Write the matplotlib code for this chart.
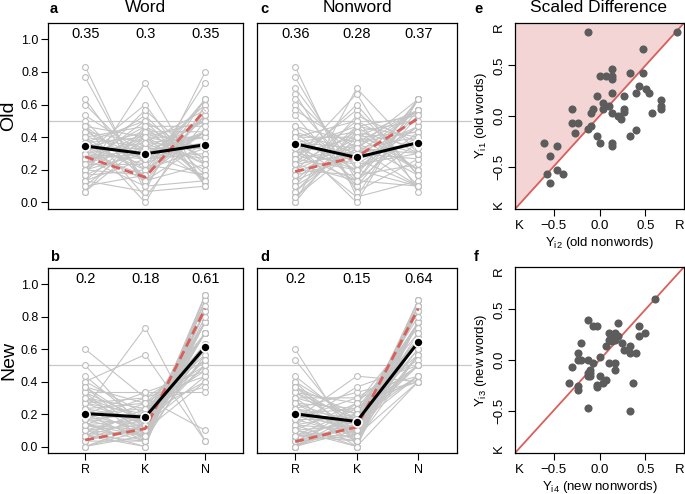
import numpy as np
import matplotlib.pyplot as plt

plt.rcParams['font.family'] = ['Liberation Sans', 'DejaVu Sans']

resp = ['R', 'K', 'N']

# per-participant response counts out of 30 trials: (R, K, N)
old_word = [
    (25, 2, 3), (23, 3, 4), (19, 4, 7), (18, 7, 5), (16, 9, 5), (15, 4, 11), (14, 12, 4), (14, 6, 10), (14, 1, 15), (13, 8, 9),
    (13, 11, 6), (12, 5, 13), (12, 10, 8), (12, 14, 4), (12, 0, 18), (11, 8, 11), (11, 12, 7), (11, 6, 13), (11, 15, 4), (10, 10, 10),
    (10, 7, 13), (10, 13, 7), (10, 4, 16), (10, 9, 11), (9, 16, 5), (9, 8, 13), (9, 11, 10), (9, 18, 3), (9, 5, 16), (8, 12, 10),
    (8, 9, 13), (8, 14, 8), (8, 3, 19), (8, 10, 12), (7, 15, 8), (7, 7, 16), (7, 11, 12), (5, 22, 3), (7, 13, 10), (6, 9, 15),
    (6, 12, 12), (6, 5, 19), (6, 17, 7), (5, 10, 15), (5, 6, 19), (4, 13, 13), (4, 8, 18), (4, 2, 24), (3, 12, 15), (3, 5, 22),
    (2, 11, 17), (2, 14, 14)]
new_word = [
    (18, 9, 3), (15, 3, 12), (13, 4, 13), (12, 17, 1), (7, 22, 1), (12, 6, 12), (11, 2, 17), (11, 8, 11), (10, 5, 15), (10, 1, 19),
    (10, 10, 10), (9, 7, 14), (9, 3, 18), (8, 4, 18), (8, 6, 16), (8, 9, 13), (7, 2, 21), (7, 5, 18), (7, 8, 15), (6, 3, 21),
    (6, 7, 17), (6, 1, 23), (6, 10, 14), (5, 4, 21), (5, 6, 19), (5, 2, 23), (5, 9, 16), (4, 5, 21), (4, 1, 25), (4, 8, 18),
    (4, 3, 23), (3, 6, 21), (3, 2, 25), (3, 4, 23), (3, 0, 27), (2, 5, 23), (2, 7, 21), (2, 1, 27), (2, 3, 25), (1, 4, 25),
    (1, 1, 28), (1, 6, 23), (0, 2, 28), (0, 4, 26), (0, 3, 27), (2, 0, 28), (11, 4, 15), (9, 5, 16), (6, 5, 19), (4, 2, 24)]
old_nonword = [
    (25, 1, 4), (23, 4, 3), (21, 6, 3), (20, 2, 8), (19, 8, 3), (18, 5, 7), (17, 10, 3), (16, 3, 11), (14, 7, 9), (14, 11, 5),
    (13, 4, 13), (13, 9, 8), (12, 12, 6), (12, 6, 12), (12, 15, 3), (11, 8, 11), (11, 3, 16), (11, 13, 6), (11, 10, 9), (10, 6, 14),
    (10, 1, 19), (10, 14, 6), (10, 9, 11), (8, 20, 2), (9, 7, 14), (9, 12, 9), (9, 4, 17), (8, 10, 12), (8, 17, 5), (11, 0, 19),
    (8, 6, 16), (7, 13, 10), (7, 4, 19), (7, 9, 14), (7, 18, 5), (6, 11, 13), (6, 5, 19), (6, 15, 9), (5, 8, 17), (5, 12, 13),
    (4, 9, 17), (4, 14, 12), (3, 10, 17), (3, 16, 11), (2, 11, 17), (2, 13, 15), (1, 12, 17), (0, 14, 16), (0, 21, 9), (1, 10, 19)]
new_nonword = [
    (18, 0, 12), (16, 2, 12), (13, 4, 13), (12, 5, 13), (12, 1, 17), (11, 6, 13), (11, 2, 17), (10, 8, 12), (10, 3, 17), (10, 5, 15),
    (9, 1, 20), (9, 6, 15), (9, 9, 12), (8, 2, 20), (8, 4, 18), (8, 7, 15), (7, 0, 23), (7, 3, 20), (7, 10, 13), (7, 5, 18),
    (5, 13, 12), (6, 1, 23), (6, 4, 20), (6, 7, 17), (5, 2, 23), (5, 5, 20), (5, 9, 16), (4, 0, 26), (4, 3, 23), (4, 6, 20),
    (4, 11, 15), (3, 1, 26), (3, 4, 23), (3, 8, 19), (2, 2, 26), (2, 5, 23), (3, 0, 27), (2, 3, 25), (2, 7, 21), (1, 2, 27),
    (1, 4, 25), (1, 6, 23), (0, 3, 27), (0, 4, 26), (0, 6, 24), (0, 5, 25), (0, 8, 22), (2, 1, 27), (11, 4, 15), (6, 3, 21)]

# group means (black) and model predictions (red dashed)
mean_old_word = [0.346, 0.298, 0.354]
mean_new_word = [0.203, 0.181, 0.613]
mean_old_nonword = [0.360, 0.276, 0.367]
mean_new_nonword = [0.201, 0.154, 0.643]
model_old_word = [0.28, 0.155, 0.565]
model_new_word = [0.04, 0.11, 0.85]
model_old_nonword = [0.19, 0.28, 0.515]
model_new_nonword = [0.03, 0.12, 0.85]

# scaled differences
e_x = [-0.13, 0.84, 0.47, 0.00, 0.07, 0.14, 0.14, 0.14, 0.33, 0.47, 0.43, 0.40, 0.51, 0.54, 0.14, -0.03, 0.27,
       0.67, 0.67, 0.67, 0.04, 0.10, 0.04, -0.07, -0.09, -0.30, 0.14, 0.27, 0.27, 0.20, 0.23, 0.57, -0.30, -0.23,
       -0.09, -0.13, -0.27, -0.03, 0.00, 0.14, 0.14, 0.33, 0.40, -0.60, -0.46, -0.54, -0.57, -0.46, -0.40, -0.54]
e_y = [0.83, 0.83, 0.66, 0.40, 0.40, 0.40, 0.46, 0.37, 0.43, 0.43, 0.30, 0.23, 0.27, 0.23, 0.23, 0.20, 0.20,
       0.16, 0.10, 0.07, 0.13, 0.10, 0.07, 0.07, 0.03, 0.07, 0.03, 0.07, 0.04, 0.00, -0.03, 0.03, -0.07, -0.07,
       -0.10, -0.13, -0.17, -0.20, -0.27, -0.27, -0.30, -0.20, -0.14, -0.27, -0.30, -0.40, -0.57, -0.53, -0.57, -0.66]
f_x = [0.60, -0.13, -0.07, -0.03, 0.20, 0.43, 0.50, 0.43, 0.10, 0.17, 0.14, 0.20, 0.10, 0.14, 0.17, 0.07,
       0.24, -0.20, 0.27, 0.33, 0.33, 0.40, -0.23, -0.23, -0.20, -0.13, 0.00, -0.07, -0.30, 0.10, 0.17, 0.17,
       -0.10, -0.13, -0.10, -0.13, -0.10, 0.00, -0.33, -0.23, -0.23, -0.03, -0.03, 0.04, 0.07, 0.37, -0.13, 0.33]
f_y = [0.60, 0.40, 0.34, 0.34, 0.37, 0.34, 0.27, 0.24, 0.27, 0.27, 0.24, 0.24, 0.20, 0.19, 0.20, 0.14,
       0.17, 0.17, 0.10, 0.14, 0.07, 0.07, 0.07, 0.00, 0.00, 0.00, 0.03, -0.03, -0.07, -0.03, -0.03, -0.10,
       -0.10, -0.13, -0.13, -0.16, -0.16, -0.16, -0.23, -0.26, -0.30, -0.25, -0.27, -0.23, -0.20, -0.23, -0.47, -0.50]

W, H = 685, 494
fig = plt.figure(figsize=(W / 100, H / 100), dpi=100)


def box(x0, y0, x1, y1):
    return [x0 / W, 1 - y1 / H, (x1 - x0) / W, (y1 - y0) / H]


def rkn_panel(ax, data, means, model, bottom):
    p = np.array(data) / 30
    x = np.arange(1, 4)
    ax.axhline(0.5, xmin=0, xmax=1.072, color='#c8c8c8', lw=0.9, clip_on=False, zorder=1)
    for row in p:
        ax.plot(x, row, color='#c4c4c4', lw=0.8, zorder=2)
    for i in range(3):
        ax.plot(np.full(len(p), x[i]), p[:, i], 'o', ms=4.2, mfc='white', mec='#bdbdbd', mew=0.8, zorder=3)
    ax.plot(x, model, color='#d9605a', lw=2, dashes=(3.2, 1.8), zorder=4)
    ax.plot(x, means, color='black', lw=2.2, zorder=5)
    ax.plot(x, means, 'o', color='black', ms=6.5, mec='white', mew=1.2, zorder=6)
    for xi, m in zip(x, means):
        ax.text(xi, 1.035, f"{round(m, 2):g}", ha='center', va='center', fontsize=10.5)
    ax.set_xlim(0.38, 3.63)
    ax.set_ylim(-0.04, 1.10)
    if bottom:
        ax.set_xticks(x, resp, fontsize=9)
        ax.tick_params(axis='x', length=5, width=0.8, pad=3)
    else:
        ax.tick_params(axis='x', bottom=False, labelbottom=False)


def diff_panel(ax, xs, ys, xlab, ylab, shade):
    lim = 0.92
    if shade:
        ax.fill_between([-lim, lim], [-lim, lim], [lim, lim], color='#f3d5d5', lw=0, zorder=0)
    ax.plot([-lim, lim], [-lim, lim], color='#d9605a', lw=1.3, zorder=1)
    ax.scatter(xs, ys, s=34, color='#5c5c5c', lw=0, zorder=3)
    ax.set_xlim(-lim, lim)
    ax.set_ylim(-lim, lim)
    ticks = [-0.875, -0.5, 0, 0.5, 0.875]
    labs = ['K', '\u22120.5', '0.0', '0.5', 'R']
    ax.set_xticks(ticks, labs, fontsize=9.5)
    ax.set_yticks(ticks, labs, fontsize=9.5)
    ax.tick_params(axis='both', length=5, width=0.8)
    ax.tick_params(axis='x', pad=3)
    ax.tick_params(axis='y', pad=2, labelrotation=90)
    for lab in ax.get_yticklabels():
        lab.set_va('center')
    for axis in (ax.xaxis, ax.yaxis):
        tk = axis.get_major_ticks()
        tk[0].tick1line.set_visible(False)
        tk[-1].tick1line.set_visible(False)
    ax.set_xlabel(xlab, fontsize=9.5, labelpad=2)
    ax.set_ylabel(ylab, fontsize=9.5, labelpad=3)


ax_a = fig.add_axes(box(48, 23, 243, 209))
ax_c = fig.add_axes(box(257, 23, 457, 209))
ax_b = fig.add_axes(box(48, 268, 243, 453))
ax_d = fig.add_axes(box(257, 268, 457, 453))
ax_e = fig.add_axes(box(515, 23, 684, 209))
ax_f = fig.add_axes(box(515, 267, 684, 453))

rkn_panel(ax_a, old_word, mean_old_word, model_old_word, False)
rkn_panel(ax_c, old_nonword, mean_old_nonword, model_old_nonword, False)
rkn_panel(ax_b, new_word, mean_new_word, model_new_word, True)
rkn_panel(ax_d, new_nonword, mean_new_nonword, model_new_nonword, True)

for ax in (ax_a, ax_b):
    ax.set_yticks(np.arange(0, 1.01, 0.2), [f"{v:.1f}" for v in np.arange(0, 1.01, 0.2)], fontsize=9)
    ax.tick_params(axis='y', length=5, width=0.8, pad=2)
for ax in (ax_c, ax_d):
    ax.tick_params(axis='y', left=False, labelleft=False)

diff_panel(ax_e, e_x, e_y, 'Y$\\mathregular{_{i2}}$ (old nonwords)', 'Y$\\mathregular{_{i1}}$ (old words)', True)
diff_panel(ax_f, f_x, f_y, 'Y$\\mathregular{_{i4}}$ (new nonwords)', 'Y$\\mathregular{_{i3}}$ (new words)', False)

for ax in (ax_a, ax_b, ax_c, ax_d, ax_e, ax_f):
    for s in ax.spines.values():
        s.set_linewidth(0.9)

# titles, row labels and panel letters
fig.text(145 / W, 1 - 8 / H, 'Word', ha='center', va='center', fontsize=12.5)
fig.text(357 / W, 1 - 8 / H, 'Nonword', ha='center', va='center', fontsize=12.5)
fig.text(598 / W, 1 - 8 / H, 'Scaled Difference', ha='center', va='center', fontsize=12.5)
fig.text(9 / W, 1 - 116 / H, 'Old', rotation=90, ha='center', va='center', fontsize=14)
fig.text(9 / W, 1 - 360 / H, 'New', rotation=90, ha='center', va='center', fontsize=14)
for letter, px, py in [('a', 50, 9), ('c', 260, 9), ('e', 474, 9), ('b', 50, 257), ('d', 260, 257), ('f', 474, 257)]:
    fig.text(px / W, 1 - py / H, letter, ha='left', va='center', fontsize=10.5, fontweight='bold')

fig.savefig('out.png', dpi=100)
